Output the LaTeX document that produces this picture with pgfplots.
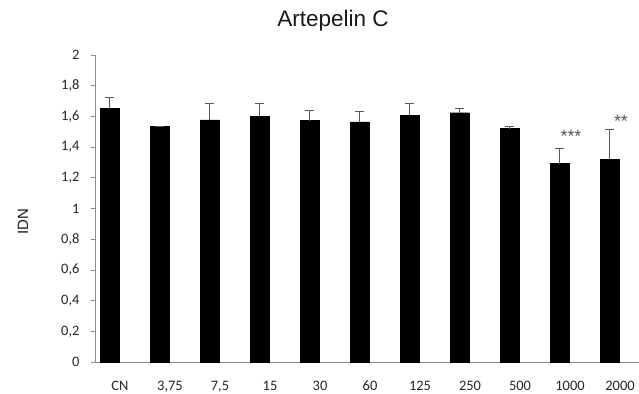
\documentclass[border=0pt]{standalone}
\usepackage{pgfplots}
\pgfplotsset{compat=1.18}
\usepackage{fontspec}
\setmainfont{Carlito}
\newfontfamily\arialfont{Liberation Sans}
\definecolor{axgray}{RGB}{140,140,140}
\definecolor{errgray}{RGB}{90,90,90}
\begin{document}
\begin{tikzpicture}
\begin{axis}[
  at={(0,0)}, anchor=south west,
  scale only axis,
  width=550bp, height=307bp,
  xmin=-0.5, xmax=10.5,
  ymin=0, ymax=2,
  ybar, bar width=18.7bp,
  axis x line=bottom, axis y line=left,
  axis line style={-, axgray, line width=0.8pt},
  xtick=data,
  xticklabels={CN,{3,75},{7,5},15,30,60,125,250,500,1000,2000},
  x tick style={draw=none},
  extra x ticks={-0.5,0.5,1.5,2.5,3.5,4.5,5.5,6.5,7.5,8.5,9.5},
  extra x tick labels={},
  extra x tick style={major tick length=4bp, tick align=outside, tick style={axgray, line width=0.6pt}},
  xticklabel style={anchor=base, yshift=-24bp, font=\fontsize{14.5}{16}\selectfont, text=black!85},
  ytick={0,0.2,0.4,0.6,0.8,1,1.2,1.4,1.6,1.8,2},
  y tick style={axgray, line width=0.6pt},
  major tick length=4bp,
  tick align=outside,
  yticklabel style={font=\fontsize{14.5}{16}\selectfont, text=black!85, xshift=-8bp},
  /pgf/number format/.cd, use comma, fixed, precision=1, assume math mode=true,
  /pgfplots/.cd,
  title={Artepelin C},
  title style={at={(axis description cs:0.4327,1)}, anchor=base, yshift=22.3bp, inner sep=0pt, font=\arialfont\fontsize{22.6}{24}\selectfont, text=black!90},
  ylabel={IDN},
  ylabel style={at={(axis description cs:-0.131,0.456)}, anchor=center, font=\arialfont\fontsize{15}{17}\selectfont, text=black!90},
  clip=false,
]
\addplot[fill=black, draw=black,
  error bars/.cd, y dir=plus, y explicit,
  error bar style={errgray, line width=0.9pt},
  error mark options={rotate=90, mark size=4.3bp, errgray, line width=0.9pt}]
  table[x=x, y=y, y error=e] {
x y e
0 1.653 0.069
1 1.533 0.004
2 1.578 0.105
3 1.600 0.083
4 1.572 0.065
5 1.565 0.065
6 1.609 0.074
7 1.624 0.029
8 1.520 0.017
9 1.292 0.098
10 1.322 0.194
};
\addplot[ybar=0pt, draw=none, fill=none, mark=none, bar width=0pt,
  nodes near coords, point meta=explicit symbolic,
  every node near coord/.append style={anchor=base, inner sep=0pt, text=errgray, font=\arialfont\fontsize{18}{19}\selectfont}]
  table[x=x, y=y, meta=lab] {
x y lab
9 1.431 ***
10 1.529 **
};
\end{axis}
\pgfresetboundingbox
\path[use as bounding box] (-95bp,-32bp) rectangle (544bp,362bp);
\end{tikzpicture}
\end{document}
